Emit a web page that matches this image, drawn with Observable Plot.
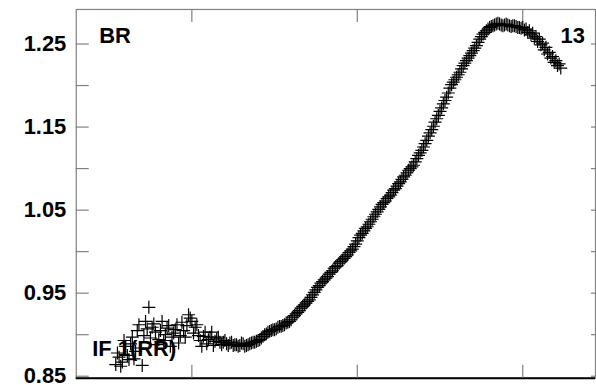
<!DOCTYPE html>
<html>
<head>
<meta charset="utf-8">
<script src="https://cdn.jsdelivr.net/npm/d3@7"></script>
<script src="https://cdn.jsdelivr.net/npm/@observablehq/plot@0.6"></script>
<style>
html, body { margin: 0; padding: 0; background: #fff; overflow: hidden; }
#chart svg { display: block; }
</style>
</head>
<body>
<div id="chart"></div>
<script>
// Sample index (x) and ratio values (y)
const sampleIndexEven = d3.range(54, 324, 2).concat([323]);
const ratioEven = [
  0.864, 0.873, 0.867, 0.886, 0.870, 0.897, 0.880, 0.912, 0.863, 0.916,
  0.933, 0.909, 0.903, 0.894, 0.916, 0.900, 0.911, 0.897, 0.906, 0.890,
  0.915, 0.897, 0.924, 0.916, 0.909, 0.899, 0.886, 0.903, 0.894, 0.903,
  0.892, 0.897, 0.888, 0.893, 0.887, 0.891, 0.888, 0.886, 0.890, 0.886,
  0.888, 0.890, 0.891, 0.893, 0.896, 0.900, 0.903, 0.905, 0.906, 0.909,
  0.910, 0.912, 0.915, 0.918, 0.923, 0.927, 0.932, 0.936, 0.940, 0.945,
  0.951, 0.957, 0.962, 0.966, 0.970, 0.975, 0.980, 0.983, 0.988, 0.992,
  0.996, 1.001, 1.006, 1.013, 1.020, 1.025, 1.030, 1.036, 1.042, 1.048,
  1.054, 1.059, 1.064, 1.068, 1.074, 1.079, 1.084, 1.090, 1.095, 1.100,
  1.104, 1.112, 1.119, 1.126, 1.134, 1.143, 1.151, 1.160, 1.169, 1.178,
  1.186, 1.197, 1.204, 1.210, 1.216, 1.224, 1.230, 1.236, 1.242, 1.248,
  1.256, 1.262, 1.266, 1.270, 1.272, 1.274, 1.274, 1.272, 1.274, 1.272,
  1.272, 1.271, 1.270, 1.270, 1.268, 1.266, 1.263, 1.259, 1.256, 1.251,
  1.246, 1.240, 1.235, 1.230, 1.226, 1.221
];
const sampleIndexOdd = d3.range(55, 322, 2);
const ratioOdd = [
  0.878, 0.862, 0.893, 0.875, 0.889, 0.871, 0.905, 0.884, 0.899, 0.907,
  0.896, 0.913, 0.888, 0.905, 0.893, 0.908, 0.886, 0.902, 0.912, 0.899,
  0.905, 0.911, 0.920, 0.902, 0.912, 0.893, 0.898, 0.889, 0.897, 0.887,
  0.895, 0.891, 0.891, 0.889, 0.890, 0.887, 0.888, 0.887, 0.889, 0.887,
  0.889, 0.891, 0.892, 0.894, 0.898, 0.901, 0.904, 0.906, 0.907, 0.910,
  0.911, 0.914, 0.916, 0.921, 0.925, 0.929, 0.934, 0.938, 0.942, 0.948,
  0.954, 0.959, 0.964, 0.968, 0.973, 0.977, 0.982, 0.986, 0.990, 0.994,
  0.999, 1.003, 1.009, 1.017, 1.022, 1.028, 1.033, 1.039, 1.045, 1.051,
  1.057, 1.061, 1.066, 1.071, 1.076, 1.082, 1.087, 1.092, 1.098, 1.102,
  1.108, 1.116, 1.122, 1.130, 1.139, 1.147, 1.156, 1.164, 1.173, 1.182,
  1.191, 1.201, 1.207, 1.213, 1.220, 1.227, 1.233, 1.239, 1.245, 1.252,
  1.259, 1.264, 1.268, 1.271, 1.273, 1.275, 1.273, 1.273, 1.273, 1.271,
  1.272, 1.270, 1.269, 1.267, 1.264, 1.261, 1.257, 1.253, 1.249, 1.243,
  1.238, 1.233, 1.228, 1.224
];
const yTickLabels = [0.85, 0.95, 1.05, 1.15, 1.25];
const yTicksAll = [0.85, 0.90, 0.95, 1.00, 1.05, 1.10, 1.15, 1.20, 1.25];
const xTicks = [100, 200, 300];
const annotations = [
  {text: "BR", x: 44, y: 1.2598},
  {text: "13", x: 322.9, y: 1.2598},
  {text: "IF 1(RR)", x: 39.8, y: 0.883}
];

const data = sampleIndexEven.map((x, i) => ({x, y: ratioEven[i]}))
  .concat(sampleIndexOdd.map((x, i) => ({x, y: ratioOdd[i]})));

const width = 598, height = 385;
const marginLeft = 76, marginRight = 1, marginTop = 9, marginBottom = 6;
const innerW = width - marginLeft - marginRight;
const innerH = height - marginTop - marginBottom;
const xDomain = [30.12, 343.98];
const yDomain = [0.8476, 1.2916];

const plusSymbol = {
  draw(context, size) {
    const r = Math.sqrt(size / Math.PI);
    context.moveTo(-r, 0); context.lineTo(r, 0);
    context.moveTo(0, -r); context.lineTo(0, r);
  }
};

const font = "'Liberation Sans', Arial, sans-serif";
const gray = "#808080";

const chart = Plot.plot({
  width, height, marginLeft, marginRight, marginTop, marginBottom,
  style: {background: "#fff", fontFamily: font},
  x: {domain: xDomain, axis: null},
  y: {domain: yDomain, axis: null},
  marks: [
    Plot.frame({stroke: gray, strokeWidth: 1.2}),
    Plot.ruleY([yDomain[0]], {stroke: "#000", strokeWidth: 2}),
    Plot.ruleY(yTicksAll, {stroke: gray, strokeWidth: 1.2, insetRight: innerW - 13}),
    Plot.ruleY(yTicksAll, {stroke: gray, strokeWidth: 1.2, insetLeft: innerW - 4}),
    Plot.ruleX(xTicks, {stroke: gray, strokeWidth: 1.2, insetTop: innerH - 13}),
    Plot.ruleX(xTicks, {stroke: gray, strokeWidth: 1.2, insetBottom: innerH - 13}),
    Plot.axisY(yTickLabels, {
      anchor: "left", tickSize: 0, tickPadding: 10, label: null,
      tickFormat: d3.format(".2f"), fontSize: 22, fontWeight: "bold", fill: "#000"
    }),
    Plot.dot(data, {x: "x", y: "y", symbol: plusSymbol, r: 6.5, stroke: "#000", strokeWidth: 1.2, fill: "none"}),
    Plot.text(annotations, {
      x: "x", y: "y", text: "text", textAnchor: "start", lineAnchor: "middle",
      fontSize: 22, fontWeight: "bold", fill: "#000"
    })
  ]
});

document.getElementById("chart").appendChild(chart);
</script>
</body>
</html>
